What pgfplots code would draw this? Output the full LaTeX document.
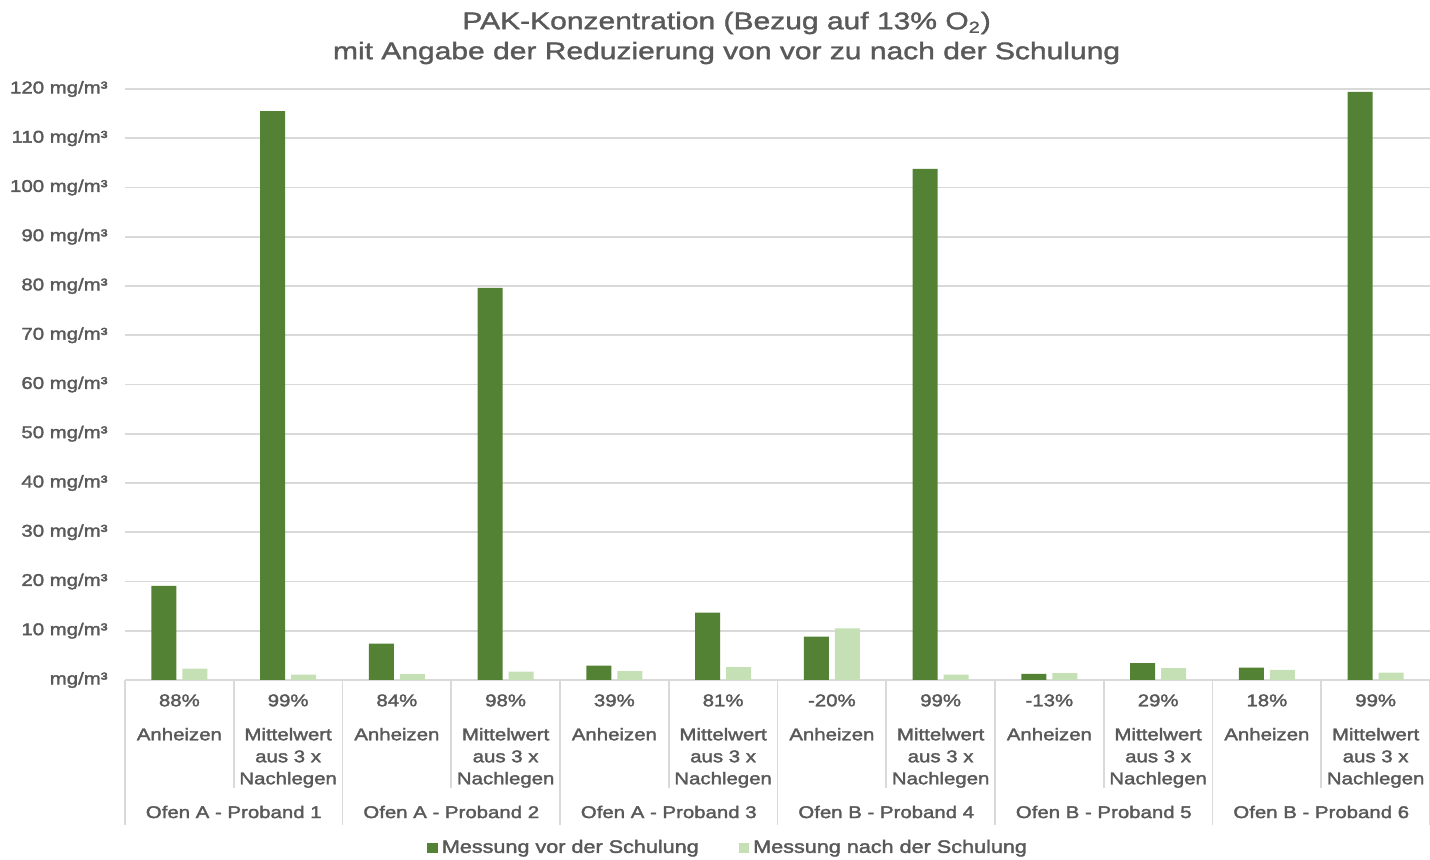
\documentclass[border=0pt]{standalone}
\usepackage{fontspec}
\setmainfont{Liberation Sans}[FakeStretch=1.2, FakeBold=2]
\newfontfamily\titelfont{Liberation Sans}[FakeStretch=1.25, FakeBold=1.5]
\usepackage{pgfplots}
\pgfplotsset{compat=1.18}

\definecolor{dunkel}{HTML}{548235}
\definecolor{hell}{HTML}{C5E0B4}
\definecolor{textgrau}{HTML}{595959}
\definecolor{gitter}{HTML}{D9D9D9}

\begin{document}
\begin{tikzpicture}
\begin{axis}[
    scale only axis,
    width=652.5pt, height=295.5pt,
    ybar=3pt, bar width=12.5pt,
    xmin=0.5, xmax=12.5, ymin=0, ymax=120,
    clip=false,
    axis line style={draw=none},
    major tick length=0pt,
    ymajorgrids,
    grid style={gitter, line width=0.8pt},
    ytick={0,10,...,120},
    yticklabels={mg/m³, 10 mg/m³, 20 mg/m³, 30 mg/m³, 40 mg/m³, 50 mg/m³,
        60 mg/m³, 70 mg/m³, 80 mg/m³, 90 mg/m³, 100 mg/m³, 110 mg/m³, 120 mg/m³},
    yticklabel style={font=\fontsize{8.5}{10}\selectfont, text=textgrau,
        anchor=east, inner sep=0pt, xshift=-8.5pt},
    xtick={1,...,12},
    xticklabels={
        {88\%\\[6pt]Anheizen}, {99\%\\[6pt]Mittelwert\\aus 3 x\\Nachlegen},
        {84\%\\[6pt]Anheizen}, {98\%\\[6pt]Mittelwert\\aus 3 x\\Nachlegen},
        {39\%\\[6pt]Anheizen}, {81\%\\[6pt]Mittelwert\\aus 3 x\\Nachlegen},
        {-20\%\\[6pt]Anheizen}, {99\%\\[6pt]Mittelwert\\aus 3 x\\Nachlegen},
        {-13\%\\[6pt]Anheizen}, {29\%\\[6pt]Mittelwert\\aus 3 x\\Nachlegen},
        {18\%\\[6pt]Anheizen}, {99\%\\[6pt]Mittelwert\\aus 3 x\\Nachlegen}},
    xticklabel style={font=\fontsize{8.5}{11}\selectfont, text=textgrau,
        align=center, anchor=north, inner sep=0pt, yshift=-7pt},
    legend style={at={(0.463,-0.284)}, anchor=center, draw=none,
        legend columns=2, font=\fontsize{9}{10}\selectfont, text=textgrau,
        /tikz/every even column/.append style={column sep=18pt}},
    legend image code/.code={\fill[#1] (0pt,-2.6pt) rectangle (5.2pt,2.6pt);},
]

% Messung vor der Schulung
\addplot[fill=dunkel, draw=none] coordinates {
    (1,19.1) (2,115.5) (3,7.4) (4,79.6) (5,2.9) (6,13.7)
    (7,8.8) (8,103.8) (9,1.25) (10,3.4) (11,2.5) (12,119.4)
};
% Messung nach der Schulung
\addplot[fill=hell, draw=none] coordinates {
    (1,2.3) (2,1.1) (3,1.2) (4,1.7) (5,1.8) (6,2.6)
    (7,10.5) (8,1.1) (9,1.4) (10,2.4) (11,2.05) (12,1.5)
};
\legend{Messung vor der Schulung, Messung nach der Schulung}

% Trennlinien unter der Achse
\pgfplotsinvokeforeach{1.5,3.5,5.5,7.5,9.5,11.5}{
    \draw[gitter, line width=0.8pt] (axis cs:#1,0) -- ++(0pt,-54pt);
}
\pgfplotsinvokeforeach{0.5,2.5,4.5,6.5,8.5,10.5,12.5}{
    \draw[gitter, line width=0.8pt] (axis cs:#1,0) -- ++(0pt,-72.5pt);
}

% Gruppen
\tikzset{gruppe/.style={font=\fontsize{8.5}{10}\selectfont, text=textgrau,
    anchor=center, yshift=-66pt}}
\node[gruppe] at (axis cs:1.5,0) {Ofen A - Proband 1};
\node[gruppe] at (axis cs:3.5,0) {Ofen A - Proband 2};
\node[gruppe] at (axis cs:5.5,0) {Ofen A - Proband 3};
\node[gruppe] at (axis cs:7.5,0) {Ofen B - Proband 4};
\node[gruppe] at (axis cs:9.5,0) {Ofen B - Proband 5};
\node[gruppe] at (axis cs:11.5,0) {Ofen B - Proband 6};

% Titel
\node[align=center, font=\titelfont\fontsize{12}{15}\selectfont, text=textgrau]
    at (rel axis cs:0.461,1) [yshift=25.5pt]
    {PAK-Konzentration (Bezug auf 13\% O\textsubscript{2})\\
     mit Angabe der Reduzierung von vor zu nach der Schulung};
\end{axis}
\pgfresetboundingbox
\path[use as bounding box] (-62.5pt,-90pt) rectangle (652.5pt,340pt);
\end{tikzpicture}
\end{document}
